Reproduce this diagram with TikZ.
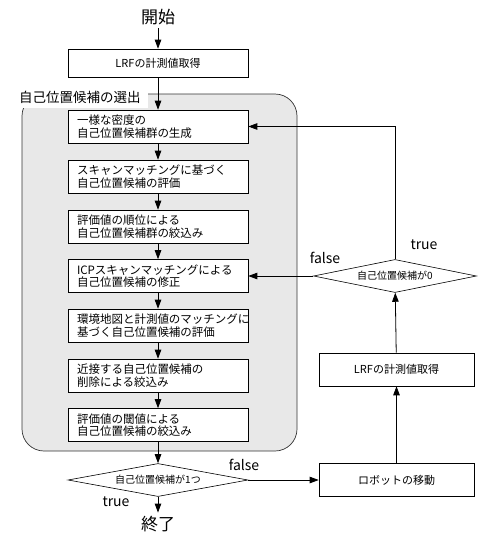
\documentclass[tikz,border=0pt]{standalone}
\usepackage{fontspec}
\setmainfont{Noto Sans CJK JP}
\usetikzlibrary{arrows.meta,shapes.geometric}
\tikzset{
  arr/.style={-{Triangle[length=9pt,width=6.5pt]}, line width=0.8pt},
  procbox/.style={draw, line width=0.6pt, fill=white, minimum width=180pt, minimum height=33pt,
    inner sep=0pt, font=\fontsize{11.5}{12.5}\selectfont},
  leftbox/.style={procbox, align=left, text width=162pt},
  sidebox/.style={draw, line width=0.6pt, fill=white, minimum width=155pt, minimum height=33pt,
    inner sep=0pt, font=\fontsize{11}{12}\selectfont},
  decision/.style={diamond, draw, line width=0.6pt, fill=white, aspect=5.5, inner sep=0pt,
    font=\fontsize{10}{11}\selectfont},
  term/.style={font=\fontsize{17}{18}\selectfont},
  branch/.style={font=\fontsize{14}{15}\selectfont},
}
\begin{document}
\begin{tikzpicture}[x=1pt,y=-1pt]
\useasboundingbox (0,0) rectangle (477,533);

% candidate selection block
\draw[line width=0.7pt, draw=black!80, fill=black!9, rounded corners=22pt] (22,94) rectangle (297,451);
\node[fill=white, inner sep=0pt, minimum width=136pt, minimum height=22pt,
      font=\fontsize{13.5}{14}\selectfont] (grp) at (80,97) {自己位置候補の選出};

% main column
\node[term] (start) at (158,17) {開始};
\node[procbox, minimum height=28pt, font=\fontsize{11}{12}\selectfont] (lrf1) at (158,63) {LRFの計測値取得};
\node[leftbox] (b1) at (158,126.5) {一様な密度の\\自己位置候補群の生成};
\node[leftbox] (b2) at (158,176.5) {スキャンマッチングに基づく\\自己位置候補の評価};
\node[leftbox] (b3) at (158,226.5) {評価値の順位による\\自己位置候補群の絞込み};
\node[leftbox] (b4) at (158,276) {ICPスキャンマッチングによる\\自己位置候補の修正};
\node[leftbox] (b5) at (158,325.5) {環境地図と計測値のマッチングに\\基づく自己位置候補の評価};
\node[leftbox] (b6) at (158,375.5) {近接する自己位置候補の\\削除による絞込み};
\node[leftbox] (b7) at (158,425) {評価値の閾値による\\自己位置候補の絞込み};
\node[decision, minimum width=180pt, minimum height=33pt] (d1) at (158,480) {自己位置候補が1つ};
\node[term] (end) at (158,524) {終了};

% right column
\node[sidebox] (move) at (396.5,480) {ロボットの移動};
\node[sidebox] (lrf2) at (396.5,369.5) {LRFの計測値取得};
\node[decision, minimum width=163pt, minimum height=33pt] (d2) at (395,276) {自己位置候補が0};

% connectors
\draw[arr] (start) -- (lrf1);
\draw[arr] (lrf1) -- (b1);
\draw[arr] (b1) -- (b2);
\draw[arr] (b2) -- (b3);
\draw[arr] (b3) -- (b4);
\draw[arr] (b4) -- (b5);
\draw[arr] (b5) -- (b6);
\draw[arr] (b6) -- (b7);
\draw[arr] (b7) -- (d1);
\draw[arr] (d1) -- (end);
\draw[arr] (d1.east) -- (move.west);
\draw[arr] (move) -- (lrf2);
\draw[arr] (lrf2) -- (d2);
\draw[arr] (d2.north) |- (b1.east);
\draw[arr] (d2.west) -- (b4.east);

% branch labels
\node[branch] (t1) at (116,502) {true};
\node[branch] (f1) at (244,465) {false};
\node[branch] (t2) at (424,245) {true};
\node[branch] (f2) at (325,258) {false};
\end{tikzpicture}
\end{document}
